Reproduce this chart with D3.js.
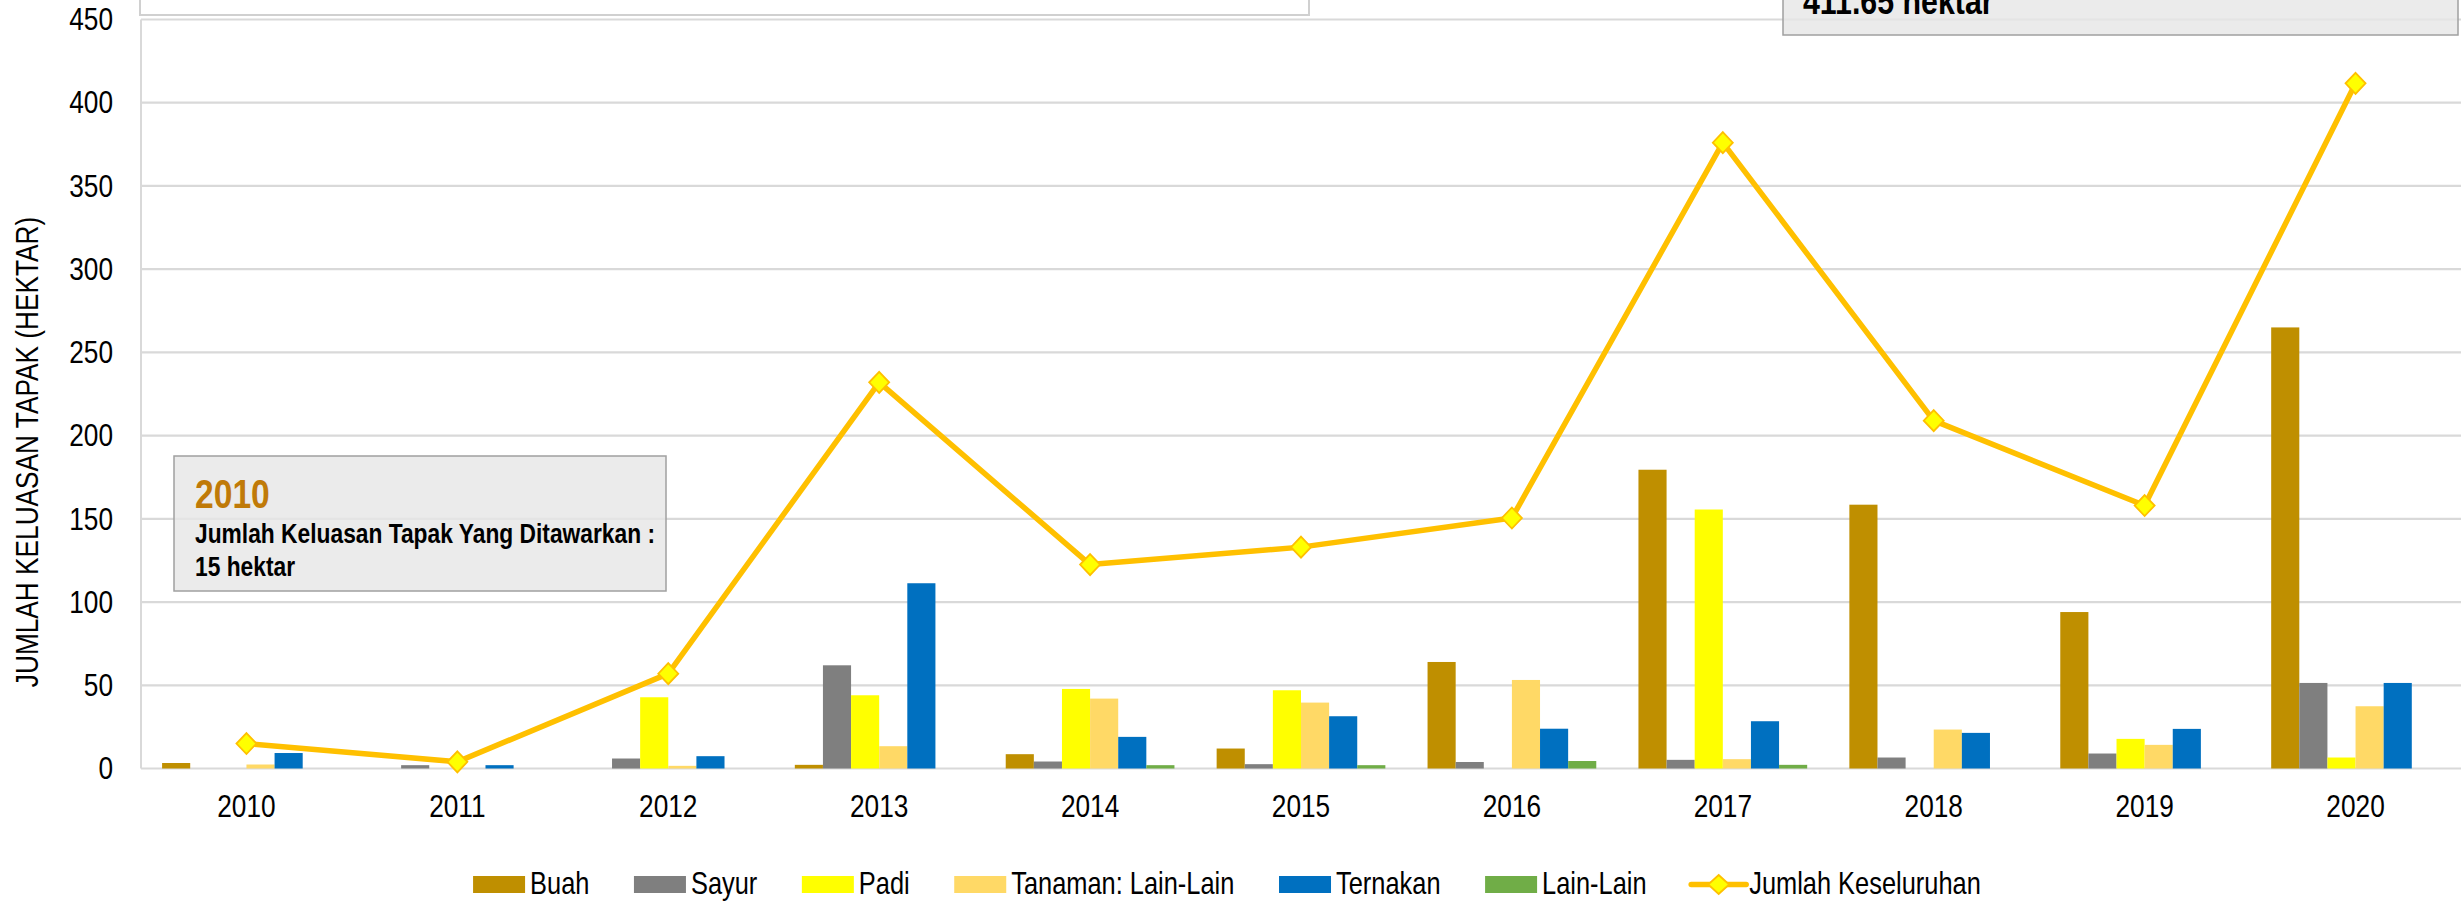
<!DOCTYPE html>
<html>
<head>
<meta charset="utf-8">
<script src="https://cdn.jsdelivr.net/npm/d3@7"></script>
<style>
  html, body { margin: 0; padding: 0; background: #ffffff; }
  svg { display: block; }
</style>
</head>
<body>
<svg id="chart" width="2464" height="902"></svg>
<script>
// ---------------- DATA ----------------
const years = ["2010","2011","2012","2013","2014","2015","2016","2017","2018","2019","2020"];
const seriesNames = ["Buah","Sayur","Padi","Tanaman: Lain-Lain","Ternakan","Lain-Lain"];
const buah     = [3.3, 0, 0, 2.2, 8.6, 12, 64, 179.5, 158.5, 94, 265];
const sayur    = [0, 2, 6, 62, 4.2, 2.6, 3.9, 5.2, 6.6, 9, 51.4];
const padi     = [0, 0, 42.8, 44, 47.8, 47, 0, 155.6, 0, 17.8, 6.6];
const tanaman  = [2.4, 0, 1.6, 13.4, 42, 39.6, 53.2, 5.6, 23.4, 14.2, 37.4];
const ternakan = [9.3, 2, 7.4, 111.3, 19, 31.4, 23.9, 28.4, 21.4, 23.8, 51.4];
const lainLain = [0, 0, 0, 0, 2, 2, 4.5, 2.2, 0, 0, 0];
const jumlah   = [15, 4, 57, 232, 122.5, 133, 150.5, 376, 209, 158, 411.65];
const lineName = "Jumlah Keseluruhan";
const yTicks = [0, 50, 100, 150, 200, 250, 300, 350, 400, 450];
const yTitle = "JUMLAH KELUASAN TAPAK (HEKTAR)";
const box2010 = ["2010", "Jumlah Keluasan Tapak Yang Ditawarkan :", "15 hektar"];
const box2020 = ["411.65 hektar"];

const seriesValues = [buah, sayur, padi, tanaman, ternakan, lainLain];
const colors = ["#BF8F00", "#7F7F7F", "#FFFF00", "#FFD966", "#0070C0", "#70AD47"];
const lineColor = "#FFC000";
const markerFill = "#FFFF00";

// ---------------- LAYOUT ----------------
const FONT = "'Liberation Sans', Arial, sans-serif";
const SX = 0.82; // horizontal compression to emulate Arial Narrow
const svg = d3.select("#chart");
const plot = { left: 141, right: 2461, top: 19.5, bottom: 768.5 };

function narrowText(parent, tx, ty, str, size, weight, fill, anchor, extra) {
  return parent.append("text")
    .attr("transform", `translate(${tx},${ty})${extra || ""} scale(${SX},1)`)
    .attr("font-family", FONT).attr("font-size", size)
    .attr("font-weight", weight || "normal").attr("fill", fill || "#000")
    .attr("text-anchor", anchor || "start")
    .text(str);
}

const x = d3.scaleBand().domain(years).range([plot.left, plot.right]).padding(0);
const bw = x.bandwidth();
const x1 = d3.scaleBand().domain(seriesNames).range([bw * 0.1, bw * 0.9]).padding(0);
const y = d3.scaleLinear().domain([0, 450]).range([plot.bottom, plot.top]);

// top-left empty white box (mostly out of view)
svg.append("rect")
  .attr("x", 140).attr("y", -200).attr("width", 1169).attr("height", 215)
  .attr("fill", "#ffffff").attr("stroke", "#d0d0d0").attr("stroke-width", 2);

// gridlines
svg.append("g").selectAll("line").data(yTicks).join("line")
  .attr("x1", plot.left).attr("x2", plot.right)
  .attr("y1", d => y(d)).attr("y2", d => y(d))
  .attr("stroke", "#d9d9d9").attr("stroke-width", 2.2);
svg.append("line")
  .attr("x1", plot.left).attr("x2", plot.left)
  .attr("y1", plot.top).attr("y2", plot.bottom)
  .attr("stroke", "#d9d9d9").attr("stroke-width", 2);

// y tick labels via axis
const yAxis = svg.append("g").attr("transform", `translate(${plot.left},0)`)
  .call(d3.axisLeft(y).tickValues(yTicks).tickSize(0).tickPadding(28));
yAxis.select(".domain").remove();
yAxis.selectAll("text")
  .attr("font-family", FONT).attr("font-size", 32).attr("fill", "#000")
  .attr("x", -28 / SX)
  .attr("transform", `scale(${SX},1)`);

// x tick labels via axis
const xAxis = svg.append("g").attr("transform", `translate(0,${plot.bottom})`)
  .call(d3.axisBottom(x).tickSize(0).tickPadding(26));
xAxis.select(".domain").remove();
xAxis.selectAll("text")
  .attr("font-family", FONT).attr("font-size", 32).attr("fill", "#000")
  .attr("transform", `scale(${SX},1)`);

// y title
narrowText(svg, 38, 452, yTitle, 32, "normal", "#000", "middle", " rotate(-90)");

// annotation boxes (semi-transparent so gridlines show)
const b1 = svg.append("g");
b1.append("rect").attr("x", 174).attr("y", 456).attr("width", 492).attr("height", 135)
  .attr("fill", "#e6e6e6").attr("fill-opacity", 0.8).attr("stroke", "#a0a0a0").attr("stroke-width", 1.5);
narrowText(b1, 195, 508, box2010[0], 41, "bold", "#C07A08");
narrowText(b1, 195, 543, box2010[1], 27.8, "bold", "#000");
narrowText(b1, 195, 576, box2010[2], 27.8, "bold", "#000");

const b2 = svg.append("g");
b2.append("rect").attr("x", 1783).attr("y", -200).attr("width", 675).attr("height", 235)
  .attr("fill", "#e6e6e6").attr("fill-opacity", 0.8).attr("stroke", "#a0a0a0").attr("stroke-width", 1.5);
narrowText(b2, 1803, 14, box2020[0], 37, "bold", "#000");

// bars
const barData = [];
seriesNames.forEach((s, si) => {
  years.forEach((yr, yi) => {
    barData.push({ series: s, year: yr, value: seriesValues[si][yi], color: colors[si] });
  });
});
svg.append("g").selectAll("rect").data(barData.filter(d => d.value > 0)).join("rect")
  .attr("x", d => x(d.year) + x1(d.series))
  .attr("width", x1.bandwidth())
  .attr("y", d => y(d.value))
  .attr("height", d => y(0) - y(d.value))
  .attr("fill", d => d.color);

// line
const lineData = years.map((yr, i) => ({ year: yr, value: jumlah[i] }));
const lineGen = d3.line().x(d => x(d.year) + bw / 2).y(d => y(d.value));
svg.append("path").datum(lineData)
  .attr("d", lineGen).attr("fill", "none")
  .attr("stroke", lineColor).attr("stroke-width", 5.5).attr("stroke-linejoin", "round");

const diamond = (cx, cy, w, h) => `M${cx},${cy - h / 2}L${cx + w / 2},${cy}L${cx},${cy + h / 2}L${cx - w / 2},${cy}Z`;
svg.append("g").selectAll("path").data(lineData).join("path")
  .attr("d", d => diamond(x(d.year) + bw / 2, y(d.value), 20, 21))
  .attr("fill", markerFill).attr("stroke", lineColor).attr("stroke-width", 1.8);

// legend
const legendItems = seriesNames.map((s, i) => ({ name: s, color: colors[i], type: "bar" }))
  .concat([{ name: lineName, type: "line" }]);
const lg = svg.append("g");
const swatchW = 52, textGap = 5, itemGap = 44.5, legendFont = 31, lineSw = 55;
const widths = legendItems.map(d => {
  const t = lg.append("text").attr("font-family", FONT).attr("font-size", legendFont).text(d.name);
  const w = t.node().getComputedTextLength() * SX;
  t.remove();
  return w;
});
let total = 0;
legendItems.forEach((d, i) => {
  total += (d.type === "line" ? lineSw + 3 : swatchW + textGap) + widths[i] + (i < legendItems.length - 1 ? itemGap : 0);
});
let cur = 1227 - total / 2;
legendItems.forEach((d, i) => {
  const g = lg.append("g");
  if (d.type === "bar") {
    g.append("rect").attr("x", cur).attr("y", 876).attr("width", swatchW).attr("height", 17).attr("fill", d.color);
    narrowText(g, cur + swatchW + textGap, 894, d.name, legendFont, "normal", "#000");
    cur += swatchW + textGap + widths[i] + itemGap;
  } else {
    g.append("line").attr("x1", cur).attr("x2", cur + lineSw).attr("y1", 884.5).attr("y2", 884.5)
      .attr("stroke", lineColor).attr("stroke-width", 5.5).attr("stroke-linecap", "round");
    g.append("path").attr("d", diamond(cur + lineSw / 2, 884.5, 21, 19))
      .attr("fill", markerFill).attr("stroke", lineColor).attr("stroke-width", 1.8);
    narrowText(g, cur + lineSw + 3, 894, d.name, legendFont, "normal", "#000");
    cur += lineSw + 3 + widths[i];
  }
});
</script>
</body>
</html>
